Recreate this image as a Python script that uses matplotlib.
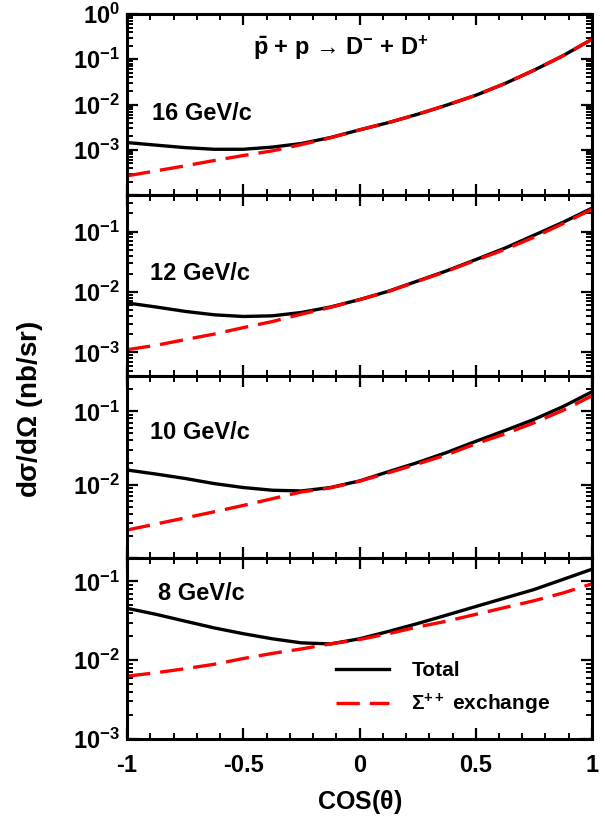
import numpy as np
import matplotlib
matplotlib.use('Agg')
import matplotlib.pyplot as plt
from matplotlib.ticker import LogLocator, NullFormatter, MultipleLocator, FixedLocator, FuncFormatter

plt.rcParams['font.family'] = ['Liberation Sans', 'DejaVu Sans']
plt.rcParams['font.weight'] = 'bold'
plt.rcParams['axes.unicode_minus'] = False
plt.rcParams['mathtext.fontset'] = 'custom'
plt.rcParams['mathtext.rm'] = 'Liberation Sans:bold'
plt.rcParams['mathtext.it'] = 'Liberation Sans:bold'
plt.rcParams['mathtext.bf'] = 'Liberation Sans:bold'
plt.rcParams['mathtext.sf'] = 'Liberation Sans:bold'

# cos(theta) sample points
cos_theta = [-1.0, -0.875, -0.75, -0.625, -0.5, -0.375, -0.25, -0.125, 0.0,
             0.125, 0.25, 0.375, 0.5, 0.625, 0.75, 0.875, 1.0]

# 16 GeV/c
total_16 = [1.45e-3, 1.27e-3, 1.12e-3, 1.03e-3, 1.03e-3, 1.15e-3, 1.38e-3, 1.87e-3, 2.76e-3,
            4.0e-3, 6.1e-3, 9.7e-3, 1.6e-2, 2.9e-2, 5.7e-2, 0.119, 0.276]
sigma_16 = [2.67e-4, 3.44e-4, 4.44e-4, 5.82e-4, 7.5e-4, 9.5e-4, 1.31e-3, 1.84e-3, 2.76e-3,
            4.0e-3, 6.1e-3, 9.7e-3, 1.6e-2, 2.9e-2, 5.7e-2, 0.119, 0.276]

# 12 GeV/c
total_12 = [6.58e-3, 5.64e-3, 4.77e-3, 4.19e-3, 3.93e-3, 4.03e-3, 4.58e-3, 5.64e-3, 7.48e-3,
            1.03e-2, 1.52e-2, 2.24e-2, 3.43e-2, 5.31e-2, 8.67e-2, 0.142, 0.244]
sigma_12 = [1.11e-3, 1.31e-3, 1.63e-3, 2.01e-3, 2.57e-3, 3.24e-3, 4.29e-3, 5.56e-3, 7.45e-3,
            1.02e-2, 1.50e-2, 2.20e-2, 3.35e-2, 5.05e-2, 8.03e-2, 0.135, 0.234]

# 10 GeV/c
total_10 = [1.58e-2, 1.39e-2, 1.21e-2, 1.03e-2, 9.1e-3, 8.36e-3, 8.17e-3, 9.1e-3, 1.12e-2,
            1.50e-2, 2.0e-2, 2.74e-2, 3.89e-2, 5.46e-2, 7.75e-2, 0.116, 0.185]
sigma_10 = [2.39e-3, 2.89e-3, 3.50e-3, 4.24e-3, 5.18e-3, 6.40e-3, 7.92e-3, 9.0e-3, 1.11e-2,
            1.45e-2, 1.91e-2, 2.55e-2, 3.61e-2, 4.91e-2, 6.97e-2, 0.103, 0.163]

# 8 GeV/c
total_8 = [4.56e-2, 3.82e-2, 3.13e-2, 2.57e-2, 2.17e-2, 1.87e-2, 1.66e-2, 1.61e-2, 1.87e-2,
           2.32e-2, 2.92e-2, 3.74e-2, 4.80e-2, 6.15e-2, 7.88e-2, 0.106, 0.143]
sigma_8 = [6.27e-3, 6.93e-3, 7.80e-3, 8.88e-3, 1.05e-2, 1.22e-2, 1.39e-2, 1.61e-2, 1.83e-2,
           2.17e-2, 2.64e-2, 3.13e-2, 3.82e-2, 4.66e-2, 5.68e-2, 7.13e-2, 9.33e-2]

momenta = ['16 GeV/c', '12 GeV/c', '10 GeV/c', '8 GeV/c']
totals = [total_16, total_12, total_10, total_8]
sigmas = [sigma_16, sigma_12, sigma_10, sigma_8]
ylims = [(1e-4, 1.0), (4e-4, 0.4), (1e-3, 0.3), (1e-3, 0.2)]
yticks = [[1e-4, 1e-3, 1e-2, 1e-1, 1.0], [1e-3, 1e-2, 1e-1],
          [1e-3, 1e-2, 1e-1], [1e-3, 1e-2, 1e-1]]
ylabels = [['', r'$10^{-3}$', r'$10^{-2}$', r'$10^{-1}$', r'$10^{0}$'],
           [r'$10^{-3}$', r'$10^{-2}$', r'$10^{-1}$'],
           ['', r'$10^{-2}$', r'$10^{-1}$'],
           [r'$10^{-3}$', r'$10^{-2}$', r'$10^{-1}$']]
label_pos = [(0.054, 0.45), (0.05, 0.57), (0.05, 0.69), (0.066, 0.80)]

fig = plt.figure(figsize=(6.05, 8.18), dpi=100)
gs = fig.add_gridspec(4, 1, hspace=0, left=0.21, right=0.9785, bottom=0.0966, top=0.983)

axes = []
for i in range(4):
    ax = fig.add_subplot(gs[i])
    axes.append(ax)
    ax.plot(cos_theta, totals[i], color='black', lw=2.4, label='Total')
    ax.plot(cos_theta, sigmas[i], color='red', lw=2.4, dashes=(7, 3),
            label=r'$\Sigma^{++}$ exchange')
    ax.set_yscale('log')
    ax.set_xlim(-1, 1)
    ax.set_ylim(*ylims[i])
    ax.yaxis.set_major_locator(FixedLocator(yticks[i]))
    ax.set_yticklabels(ylabels[i])
    ax.yaxis.set_minor_locator(LogLocator(base=10, subs=np.arange(2, 10), numticks=20))
    ax.yaxis.set_minor_formatter(NullFormatter())
    ax.xaxis.set_major_locator(MultipleLocator(0.5))
    ax.xaxis.set_minor_locator(MultipleLocator(0.1))
    ax.xaxis.set_major_formatter(FuncFormatter(lambda v, p: '%g' % v))
    ax.tick_params(which='both', direction='in', top=True, right=True)
    ax.tick_params(which='major', length=8, width=1.6, labelsize=17)
    ax.tick_params(which='minor', length=4, width=1.4)
    ax.tick_params(axis='y', pad=5)
    ax.tick_params(axis='x', pad=11)
    for s in ax.spines.values():
        s.set_linewidth(2.2)
    ax.text(label_pos[i][0], label_pos[i][1], momenta[i], transform=ax.transAxes,
            fontsize=17, fontweight='bold', va='center', ha='left')
    if i < 3:
        ax.tick_params(axis='x', labelbottom=False)

axes[0].text(0.46, 0.81, r'$\bar{\mathrm{p}}$ + p → D$^{-}$ + D$^{+}$',
             transform=axes[0].transAxes, fontsize=17, ha='center', va='center')

axes[3].legend(loc='lower left', bbox_to_anchor=(0.41, 0.02), frameon=False, fontsize=15,
               handlelength=2.5, handletextpad=1.1, labelspacing=0.55)

axes[3].set_xlabel(r'COS($\theta$)', fontsize=18, fontweight='bold', labelpad=8)
fig.text(0.05, 0.50, r'd$\sigma$/d$\Omega$ (nb/sr)', rotation=90, fontsize=20,
         fontweight='bold', ha='center', va='center')

fig.savefig('out.png', dpi=100)
